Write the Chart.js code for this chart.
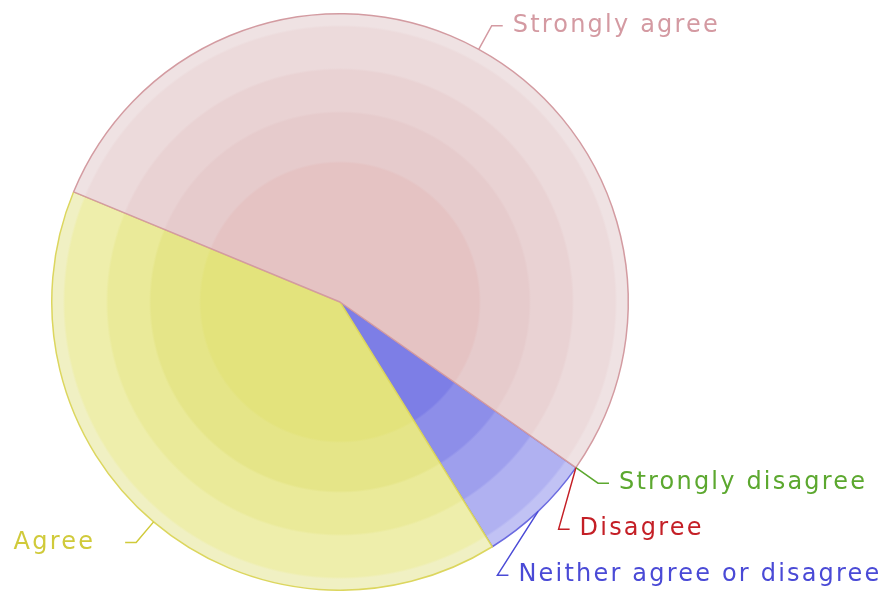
<!DOCTYPE html>
<html>
<head>
<meta charset="utf-8">
<script src="https://cdn.jsdelivr.net/npm/chart.js@4/dist/chart.umd.min.js"></script>
<style>
  html, body { margin: 0; padding: 0; background: #ffffff; }
  #wrap { width: 889px; height: 591px; position: relative; }
</style>
</head>
<body>
<div id="wrap"><canvas id="c" width="889" height="591"></canvas></div>
<script>
// ---- data (natural order, counter-clockwise in the picture) ----
const categories = ['Strongly agree', 'Agree', 'Neither agree or disagree', 'Disagree', 'Strongly disagree'];
const values = [53.5, 40.1, 6.4, 0, 0];

// ---- styles ----
const textColors = ['#d49aa2', '#d0ca3a', '#4a4ad6', '#c41f26', '#5ca82f'];
const borderColors = ['#d39ba1', '#dcd65e', '#6b6be0', '#c41f26', '#5ca82f'];
const bandStops = [0, 0.484, 0.657, 0.806, 0.955, 1];
const bandColors = [
  ['#e5c3c3', '#e6cbcc', '#e9d2d3', '#ecdadb', '#efe2e3'],
  ['#e3e37c', '#e5e588', '#eaea99', '#eeeeab', '#f0f0c3'],
  ['#7d7ee6', '#8d8ee9', '#9e9fed', '#b0b1f1', '#c1c2f4'],
  ['#c41f26', '#c41f26', '#c41f26', '#c41f26', '#c41f26'],
  ['#5ca82f', '#5ca82f', '#5ca82f', '#5ca82f', '#5ca82f']
];

// Chart.js draws clockwise; reverse to get the picture's counter-clockwise order
const order = [4, 3, 2, 1, 0];
const chartLabels = order.map(i => categories[i]);
const chartValues = order.map(i => values[i]);
const chartText = order.map(i => textColors[i]);
const chartBorder = order.map(i => borderColors[i]);
const chartBands = order.map(i => bandColors[i]);

function bandFill(context) {
  const chart = context.chart;
  const a = chart.chartArea;
  if (!a) return chartBands[context.dataIndex][2];
  const cx = (a.left + a.right) / 2, cy = (a.top + a.bottom) / 2;
  const r = Math.min(a.right - a.left, a.bottom - a.top) / 2;
  const g = chart.ctx.createRadialGradient(cx, cy, 0, cx, cy, r);
  const cols = chartBands[context.dataIndex];
  for (let k = 0; k < cols.length; k++) {
    const s0 = bandStops[k], s1 = bandStops[k + 1];
    g.addColorStop(s0 === 0 ? 0 : s0 + 0.004, cols[k]);
    g.addColorStop(Math.max(s1 - 0.004, s0), cols[k]);
  }
  return g;
}

const smartLabels = {
  id: 'smartLabels',
  afterDatasetsDraw(chart) {
    const meta = chart.getDatasetMeta(0);
    const ctx = chart.ctx;
    const ext = 27, spacing = 46, hLen = 11, gapR = 10, gapL = 30;
    const items = meta.data.map((arc, i) => {
      const p = arc.getProps(['x', 'y', 'startAngle', 'endAngle', 'outerRadius'], true);
      const mid = (p.startAngle + p.endAngle) / 2;
      const R = p.outerRadius + ext;
      return {
        i, mid, cx: p.x, cy: p.y, r: p.outerRadius, R,
        ax: p.x + p.outerRadius * Math.cos(mid),
        ay: p.y + p.outerRadius * Math.sin(mid),
        y: p.y + R * Math.sin(mid),
        right: Math.cos(mid) >= 0
      };
    });
    ['right', 'left'].forEach(side => {
      const grp = items.filter(it => (side === 'right') === it.right)
        .sort((a, b) => (a.y - b.y) || (a.i - b.i));
      for (let k = 1; k < grp.length; k++) {
        if (grp[k].y < grp[k - 1].y + spacing) grp[k].y = grp[k - 1].y + spacing;
      }
    });
    ctx.save();
    ctx.font = '24px "DejaVu Sans"';
    ctx.letterSpacing = '2.2px';
    ctx.textBaseline = 'middle';
    ctx.lineWidth = 1.5;
    items.forEach(it => {
      const dy = it.y - it.cy;
      const dx = Math.sqrt(Math.max(it.R * it.R - dy * dy, 0));
      const ex = it.right ? it.cx + dx : it.cx - dx;
      const hx = it.right ? ex + hLen : ex - hLen;
      const col = chartText[it.i];
      ctx.strokeStyle = col;
      ctx.beginPath();
      ctx.moveTo(it.ax, it.ay);
      ctx.lineTo(ex, it.y);
      ctx.lineTo(hx, it.y);
      ctx.stroke();
      ctx.fillStyle = col;
      if (it.right) {
        ctx.textAlign = 'left';
        ctx.fillText(chartLabels[it.i], hx + gapR, it.y);
      } else {
        ctx.textAlign = 'right';
        ctx.fillText(chartLabels[it.i], hx - gapL, it.y);
      }
    });
    ctx.restore();
  }
};

new Chart(document.getElementById('c'), {
  type: 'pie',
  data: {
    labels: chartLabels,
    datasets: [{
      data: chartValues,
      backgroundColor: bandFill,
      borderColor: chartBorder,
      borderWidth: 1.5
    }]
  },
  options: {
    responsive: false,
    animation: false,
    rotation: 125.07,
    layout: { padding: { top: 13, bottom: 0, left: 51, right: 260 } },
    plugins: {
      legend: { display: false },
      tooltip: { enabled: false }
    }
  },
  plugins: [smartLabels]
});
</script>
</body>
</html>
